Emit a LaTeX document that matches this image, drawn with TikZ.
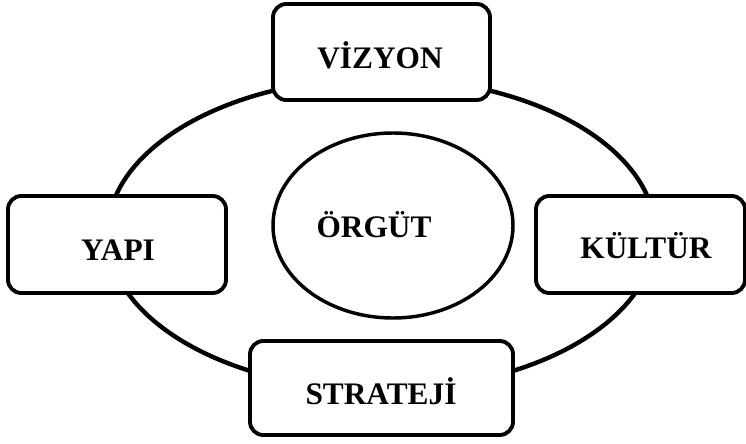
\documentclass[tikz,border=0pt]{standalone}
\usepackage{fontspec}
\setmainfont{Liberation Serif}
\usetikzlibrary{shapes.geometric}
\begin{document}
\begin{tikzpicture}[x=0.75pt,y=-0.75pt,
  boxstyle/.style={draw=black,fill=white,line width=2.9pt,rounded corners=10pt,
    minimum width=#1,inner sep=0pt},
  lbl/.style={anchor=base,font=\fontsize{23.5}{28}\selectfont\bfseries,inner sep=0pt}]
\useasboundingbox (0,0) rectangle (746,443);
% outer ring linking the four elements
\draw[line width=3.3pt] (381.5,234) ellipse [x radius=274, y radius=156];
% central element
\node[draw,line width=2.6pt,ellipse,minimum width=240*0.75pt,minimum height=185*0.75pt,inner sep=0pt] (org) at (393,225.5) {};
\node[lbl] (torg) at (374,237) {ÖRGÜT};
% surrounding boxes
\node[boxstyle=217*0.75pt,minimum height=96*0.75pt] (viz) at (381.5,52) {};
\node[boxstyle=218*0.75pt,minimum height=97*0.75pt] (yap) at (117,244.5) {};
\node[boxstyle=209*0.75pt,minimum height=97*0.75pt] (kul) at (640.5,244.5) {};
\node[boxstyle=263*0.75pt,minimum height=94*0.75pt] (str) at (381.5,388) {};
\node[lbl] (tviz) at (380,68) {VİZYON};
\node[lbl] (tyap) at (118,260) {YAPI};
\node[lbl] (tkul) at (646,258) {KÜLTÜR};
\node[lbl] (tstr) at (381,404) {STRATEJİ};
\end{tikzpicture}
\end{document}
